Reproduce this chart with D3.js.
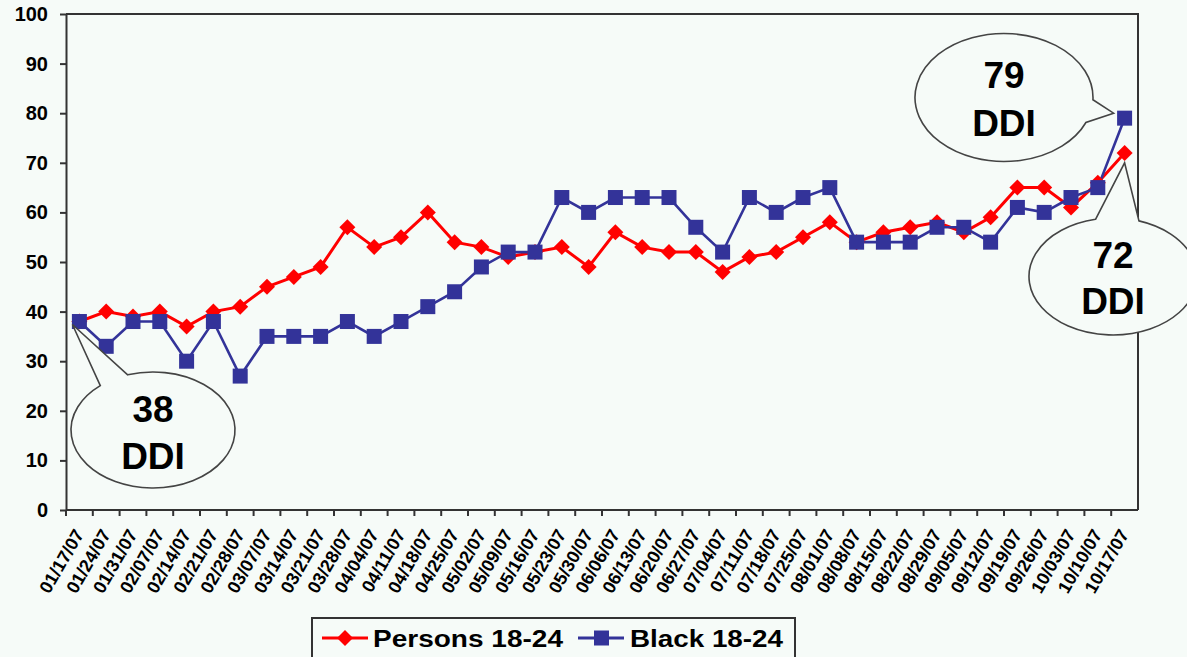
<!DOCTYPE html>
<html><head><meta charset="utf-8">
<script src="https://cdn.jsdelivr.net/npm/d3@7"></script>
<style>html,body{margin:0;padding:0;background:#f6fbf8;}svg{display:block;}</style>
</head><body>
<svg id="chart" width="1187" height="657"></svg>
<script>
const dates = ["01/17/07","01/24/07","01/31/07","02/07/07","02/14/07","02/21/07","02/28/07","03/07/07","03/14/07","03/21/07","03/28/07","04/04/07","04/11/07","04/18/07","04/25/07","05/02/07","05/09/07","05/16/07","05/23/07","05/30/07","06/06/07","06/13/07","06/20/07","06/27/07","07/04/07","07/11/07","07/18/07","07/25/07","08/01/07","08/08/07","08/15/07","08/22/07","08/29/07","09/05/07","09/12/07","09/19/07","09/26/07","10/03/07","10/10/07","10/17/07"];
const persons = [38,40,39,40,37,40,41,45,47,49,57,53,55,60,54,53,51,52,53,49,56,53,52,52,48,51,52,55,58,54,56,57,58,56,59,65,65,61,66,72];
const black = [38,33,38,38,30,38,27,35,35,35,38,35,38,41,44,49,52,52,63,60,63,63,63,57,52,63,60,63,65,54,54,54,57,57,54,61,60,63,65,79];
const seriesNames = ["Persons 18-24","Black 18-24"];
const yTicks = [0,10,20,30,40,50,60,70,80,90,100];
const calloutLines = [["38","DDI"],["79","DDI"],["72","DDI"]];

const bg = "#f6fbf8", axisCol = "#333";
const svg = d3.select("#chart");
svg.append("rect").attr("width",1187).attr("height",657).attr("fill",bg);

const x = d3.scaleBand().domain(dates).range([66,1138]).padding(0);
const y = d3.scaleLinear().domain([0,100]).range([510,14]);
const bw = x.bandwidth();
const cx = i => x(dates[i]) + bw/2;

// frame (top & right)
svg.append("path").attr("d",`M${x.range()[0]},${y(100)}H${x.range()[1]}V${y(0)}`)
  .attr("fill","none").attr("stroke",axisCol).attr("stroke-width",2);

// y axis
const ya = svg.append("g").attr("transform","translate(66,0)")
  .call(d3.axisLeft(y).tickValues(yTicks).tickSize(6).tickSizeOuter(0).tickPadding(12).tickFormat(d3.format("d")));
ya.select(".domain").attr("stroke",axisCol).attr("stroke-width",2);
ya.selectAll(".tick line").attr("stroke",axisCol).attr("stroke-width",2);
ya.selectAll(".tick text").attr("font-family","'Liberation Sans',Arial,sans-serif").attr("font-weight","bold")
  .attr("font-size",20).attr("fill","#000");

// x axis line + boundary ticks
svg.append("line").attr("x1",x.range()[0]).attr("x2",x.range()[1]).attr("y1",y(0)).attr("y2",y(0))
  .attr("stroke",axisCol).attr("stroke-width",2);
const bounds = dates.map(d=>x(d));
svg.append("g").selectAll("line").data(bounds).join("line")
  .attr("x1",d=>d).attr("x2",d=>d).attr("y1",y(0)).attr("y2",y(0)+6)
  .attr("stroke",axisCol).attr("stroke-width",2);
svg.append("g").selectAll("text").data(dates).join("text")
  .attr("transform",(d,i)=>`translate(${cx(i)+5},${y(0)+24}) rotate(-60)`)
  .attr("text-anchor","end")
  .attr("font-family","'Liberation Sans',Arial,sans-serif").attr("font-weight","bold").attr("font-size",18)
  .attr("fill","#000").text(d=>d);

// lines
const line = d3.line().x((d,i)=>cx(i)).y(d=>y(d));
svg.append("path").datum(persons).attr("d",line).attr("fill","none").attr("stroke","#ff0000").attr("stroke-width",3);
svg.append("path").datum(black).attr("d",line).attr("fill","none").attr("stroke","#333399").attr("stroke-width",2.6);

const diamond = (px,py,r) => `M${px},${py-r}L${px+r},${py}L${px},${py+r}L${px-r},${py}Z`;
svg.append("g").selectAll("path").data(persons).join("path")
  .attr("d",(d,i)=>diamond(cx(i),y(d),8)).attr("fill","#ff0000");
svg.append("g").selectAll("rect").data(black).join("rect")
  .attr("x",(d,i)=>cx(i)-7.5).attr("y",d=>y(d)-7.5).attr("width",15).attr("height",15).attr("fill","#333399");

// callouts
function callout(ecx,ecy,rx,ry,a1,a2,tip,lines,base1,base2){
  const r = Math.PI/180;
  const p1=[ecx+rx*Math.cos(a1*r), ecy+ry*Math.sin(a1*r)];
  const p2=[ecx+rx*Math.cos(a2*r), ecy+ry*Math.sin(a2*r)];
  const d = `M${p1[0]},${p1[1]}L${tip[0]},${tip[1]}L${p2[0]},${p2[1]}A${rx},${ry} 0 1 1 ${p1[0]},${p1[1]}Z`;
  svg.append("path").attr("d",d).attr("fill",bg).attr("stroke","#444").attr("stroke-width",1.6);
  svg.append("text").attr("x",ecx).attr("y",base1).attr("text-anchor","middle")
    .attr("font-family","'Liberation Sans',Arial,sans-serif").attr("font-weight","bold").attr("font-size",37).attr("fill","#000").text(lines[0]);
  svg.append("text").attr("x",ecx).attr("y",base2).attr("text-anchor","middle")
    .attr("font-family","'Liberation Sans',Arial,sans-serif").attr("font-weight","bold").attr("font-size",37).attr("fill","#000").text(lines[1]);
}
const last = dates.length-1;
callout(153,430,82,58,-130,-108,[cx(0)-7,y(black[0])+3],calloutLines[0],422,469);
callout(1004,97.5,89,64,2,23,[cx(last)-11,y(black[last])-5],calloutLines[1],88,136);
callout(1113,276.5,84,58.5,-102,-72,[cx(last),y(persons[last])+10],calloutLines[2],268,314);

// legend
svg.append("rect").attr("x",312).attr("y",618).attr("width",483).attr("height",60)
  .attr("fill",bg).attr("stroke",axisCol).attr("stroke-width",2);
const lg = svg.append("g");
lg.append("line").attr("x1",322).attr("x2",368).attr("y1",638).attr("y2",638).attr("stroke","#ff0000").attr("stroke-width",3);
lg.append("path").attr("d",diamond(345,638,8)).attr("fill","#ff0000");
lg.append("text").attr("x",373).attr("y",647).attr("font-family","'Liberation Sans',Arial,sans-serif").attr("font-weight","bold")
  .attr("font-size",23).attr("textLength",190).attr("lengthAdjust","spacingAndGlyphs").attr("fill","#000").text(seriesNames[0]);
lg.append("line").attr("x1",578).attr("x2",624).attr("y1",638).attr("y2",638).attr("stroke","#333399").attr("stroke-width",3);
lg.append("rect").attr("x",594).attr("y",630.5).attr("width",15).attr("height",15).attr("fill","#333399");
lg.append("text").attr("x",630).attr("y",647).attr("font-family","'Liberation Sans',Arial,sans-serif").attr("font-weight","bold")
  .attr("font-size",23).attr("textLength",153).attr("lengthAdjust","spacingAndGlyphs").attr("fill","#000").text(seriesNames[1]);
</script>
</body></html>
